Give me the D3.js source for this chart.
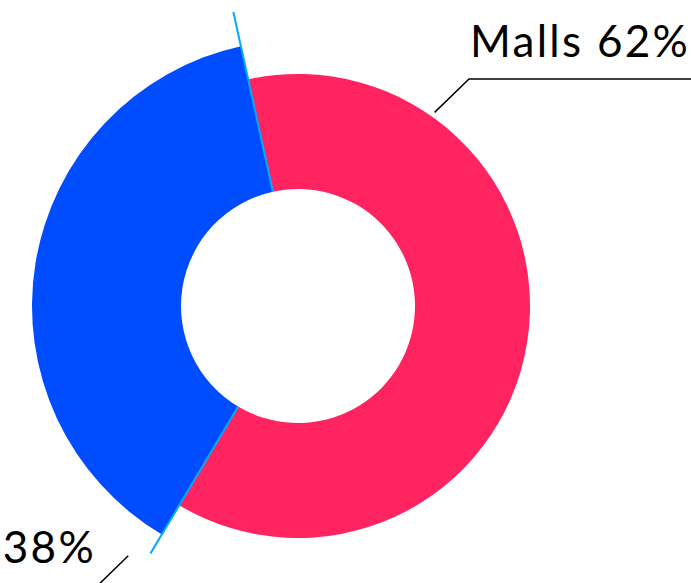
<!DOCTYPE html>
<html>
<head>
<meta charset="utf-8">
<script src="https://cdn.jsdelivr.net/npm/d3@7"></script>
<style>
  body { margin: 0; background: #fff; }
  text { font-family: Lato, "Open Sans", sans-serif; letter-spacing: 2.3px; }
</style>
</head>
<body>
<div id="chart"></div>
<script>
// data
var categories = ["Malls", "High Streets"];
var values = [62, 38];
var labels = ["Malls 62%", "High Streets 38%"];
var colors = ["#ff2360", "#004cff"];

// set the dimensions
var width = 691,
    height = 583;
var cx = 298, cy = 306;
var innerR = 117;
var outerR = [232, 266];           // variable radius per slice
var sepLen = [301, 288];          // light separator lines: top, bottom
var startDeg = -12.4;

var svg = d3.select("#chart")
    .append("svg")
    .attr("width", width)
    .attr("height", height)
    .append("g")
    .attr("transform", "translate(" + cx + "," + cy + ")");

var pie = d3.pie()
    .sort(null)
    .value(function(d) { return d; })
    .startAngle(startDeg * Math.PI / 180)
    .endAngle((startDeg + 360) * Math.PI / 180);

var arcs = pie(values);

// slices
svg.selectAll("path.slice")
    .data(arcs)
    .enter()
    .append("path")
    .attr("class", "slice")
    .attr("fill", function(d, i) { return colors[i]; })
    .attr("d", function(d, i) {
        return d3.arc().innerRadius(innerR).outerRadius(outerR[i])(d);
    });

// light blue separator lines on slice borders
function pt(a, r) {
    return [Math.sin(a) * r, -Math.cos(a) * r];
}
var seps = [arcs[0].startAngle, arcs[0].endAngle];
svg.selectAll("line.sep")
    .data(seps)
    .enter()
    .append("line")
    .attr("class", "sep")
    .attr("x1", function(a) { return pt(a, innerR)[0]; })
    .attr("y1", function(a) { return pt(a, innerR)[1]; })
    .attr("x2", function(a, i) { return pt(a, sepLen[i])[0]; })
    .attr("y2", function(a, i) { return pt(a, sepLen[i])[1]; })
    .attr("stroke", "#00aaff")
    .attr("stroke-width", 2);

// connectors and labels
var labelAngle = [35.2, 214.2];
var labelR = [237, 302];
var elbow = [[469 - cx, 79 - cy], [100 - cx, 583 - cy]];

// Malls
var a0 = labelAngle[0] * Math.PI / 180;
var p0 = pt(a0, labelR[0]);
svg.append("path")
    .attr("d", d3.line()([p0, elbow[0], [width - cx, elbow[0][1]]]))
    .attr("fill", "none")
    .attr("stroke", "#000")
    .attr("stroke-width", 1.5);
svg.append("text")
    .attr("x", elbow[0][0] + 1)
    .attr("y", 57 - cy)
    .attr("font-size", 44)
    .attr("fill", "#000")
    .text(labels[0]);

// second label
var a1 = labelAngle[1] * Math.PI / 180;
var p1 = pt(a1, labelR[1]);
svg.append("path")
    .attr("d", d3.line()([p1, [elbow[1][0] - 10, elbow[1][1] + 10]]))
    .attr("fill", "none")
    .attr("stroke", "#000")
    .attr("stroke-width", 1.5);
svg.append("text")
    .attr("x", 96 - cx)
    .attr("y", 563 - cy)
    .attr("text-anchor", "end")
    .attr("font-size", 44)
    .attr("fill", "#000")
    .text(labels[1]);
</script>
</body>
</html>
